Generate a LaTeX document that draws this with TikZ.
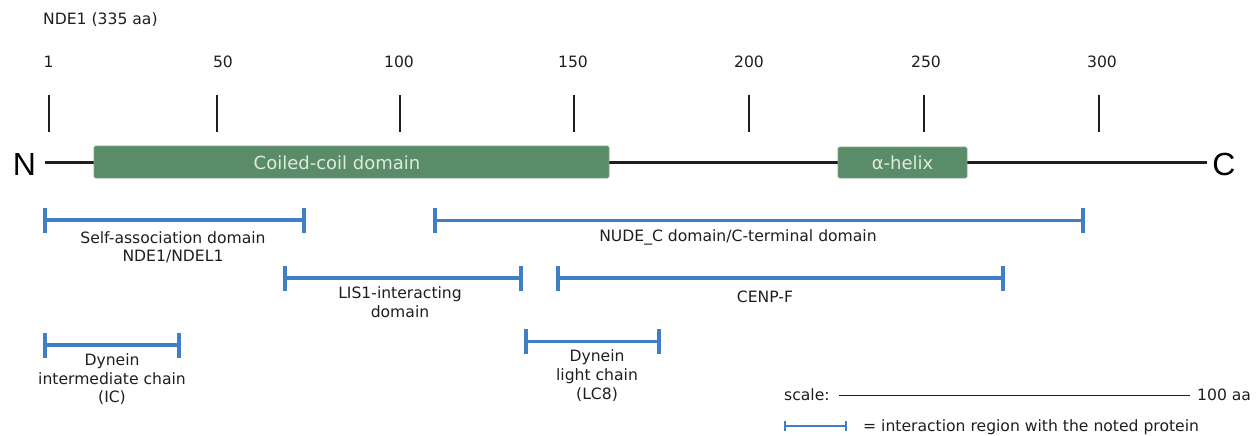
\documentclass[tikz,border=0pt]{standalone}
\usepackage{fontspec}
\setmainfont{DejaVu Sans}
\newfontfamily\termfont{Liberation Sans}
\definecolor{dgreen}{HTML}{5B8C69}
\definecolor{ltext}{HTML}{DDEBDF}
\definecolor{iblue}{HTML}{3F7FC6}
\definecolor{ink}{HTML}{1E1E1E}
\newcommand\iabar[3]{%
  \draw[iblue,line width=3.6pt] (#1,#3) -- (#2,#3);
  \draw[iblue,line width=3.6pt] (#1,#3-12.5) -- (#1,#3+12.5);
  \draw[iblue,line width=3.6pt] (#2,#3-12.5) -- (#2,#3+12.5);}
\tikzset{
  lbl/.style={anchor=base,inner sep=0pt,font=\fontsize{15.6}{18.6}\selectfont,text=ink,align=center},
  boxlbl/.style={anchor=base,inner sep=0pt,font=\fontsize{18}{20}\selectfont,text=ltext},
  term/.style={anchor=base,inner sep=0pt,font=\termfont\fontsize{32}{34}\selectfont,text=black},
  tickline/.style={draw=ink,line width=1.3pt},
  dombox/.style={fill=dgreen,draw=dgreen!80!white,line width=0.6pt,rounded corners=1.5pt}
}
\begin{document}
\begin{tikzpicture}[x=1pt,y=-1pt]
\useasboundingbox (0,0) rectangle (1260,436);
% title
\node[lbl,anchor=base west] (title) at (43,25) {NDE1 (335 aa)};
% ticks and labels
\foreach \tx/\lx/\t in {49/48.5/1,217/223/50,400/399/100,574/573/150,749/749/200,924/926/250,1099/1102/300}{
  \node[lbl] (tl\t) at (\lx,67.7) {\t};
  \draw[tickline] (\tx,95) -- (\tx,132);
}
% main chain
\coordinate (nstart) at (45,162);
\coordinate (cend) at (1207,162);
\draw[ink,line width=3pt] (nstart) -- (cend);
\node[term] (N) at (24.5,175) {N};
\node[term] (C) at (1224,175) {C};
% domains
\draw[dombox] (94,146) rectangle (609,178);
\node[boxlbl] (cc) at (337,169.3) {Coiled-coil domain};
\draw[dombox] (838,147) rectangle (967,178);
\node[boxlbl] (ah) at (902.5,169.3) {α-helix};
% interaction regions (base anchor = last line baseline)
\iabar{45}{304}{220}
\node[lbl] (sa) at (173,261.7) {Self-association domain\\NDE1/NDEL1};
\iabar{435}{1083}{220.5}
\node[lbl] (nc) at (738,241.7) {NUDE\_C domain/C-terminal domain};
\iabar{285}{521}{278}
\node[lbl] (lis) at (400,317.3) {LIS1-interacting\\domain};
\iabar{558}{1003}{278}
\node[lbl] (cenp) at (765,302.7) {CENP-F};
\iabar{45}{179}{345}
\node[lbl] (ic) at (112,402.7) {Dynein\\intermediate chain\\(IC)};
\iabar{526}{659}{341.5}
\node[lbl] (lc) at (597,399) {Dynein\\light chain\\(LC8)};
% scale
\node[lbl,anchor=base west] (scl) at (784,400) {scale:};
\coordinate (s1) at (839,395);
\coordinate (s2) at (1190,395);
\draw[ink,line width=1pt] (s1) -- (s2);
\node[lbl,anchor=base west] (s100) at (1197,400) {100 aa};
% legend
\draw[iblue,line width=1.6pt] (785,426) -- (846,426);
\draw[iblue,line width=1.6pt] (785,421) -- (785,431);
\draw[iblue,line width=1.6pt] (846,421) -- (846,431);
\node[lbl,anchor=base west] (leg) at (863,431) {= interaction region with the noted protein};
\end{tikzpicture}
\end{document}
